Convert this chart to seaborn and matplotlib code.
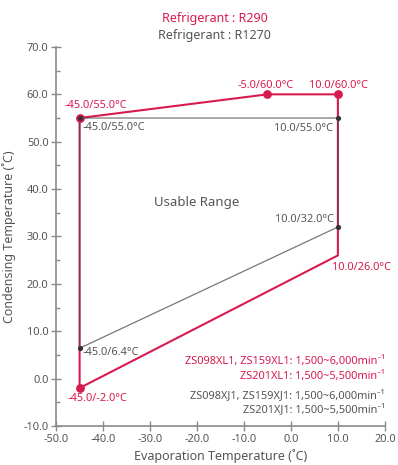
import matplotlib
matplotlib.use("Agg")
import matplotlib.pyplot as plt
import seaborn as sns
import pandas as pd
from matplotlib.ticker import MultipleLocator

# ---- data ----
r290_evap = [-45, -5, 10, 10, -45, -45]
r290_cond = [55, 60, 60, 26, -2, 55]
r290_mark_evap = [-45, -5, 10, -45]
r290_mark_cond = [55, 60, 60, -2]

r1270_evap = [-45, 10, 10, -45, -45]
r1270_cond = [55, 55, 32, 6.4, 55]
r1270_mark_evap = [-45, 10, 10, -45]
r1270_mark_cond = [55, 55, 32, 6.4]

x_ticks = [-50, -40, -30, -20, -10, 0, 10, 20]
y_ticks = [-10, 0, 10, 20, 30, 40, 50, 60, 70]

RED = "#d81b4f"
DARK = "#4a4a4a"
AX = "#8a8a8a"
TXT = "#555555"

sns.set_theme(style="white")
plt.rcParams["font.family"] = ["Noto Sans", "DejaVu Sans"]

fig = plt.figure(figsize=(3.98, 4.65), dpi=100)
ax = fig.add_axes([0.141, 0.084, 0.826, 0.815])

df290 = pd.DataFrame({"evap": r290_evap, "cond": r290_cond})
df1270 = pd.DataFrame({"evap": r1270_evap, "cond": r1270_cond})

sns.lineplot(data=df290, x="evap", y="cond", sort=False, estimator=None,
             color=RED, linewidth=1.5, ax=ax, zorder=2)
sns.lineplot(data=df1270, x="evap", y="cond", sort=False, estimator=None,
             color=DARK, linewidth=0.9, alpha=0.75, ax=ax, zorder=3)
sns.scatterplot(x=r290_mark_evap, y=r290_mark_cond, color=RED, s=40,
                edgecolor=RED, linewidth=0, ax=ax, zorder=4)
sns.scatterplot(x=r1270_mark_evap, y=r1270_mark_cond, color="#333333", s=14,
                edgecolor="#333333", linewidth=0, ax=ax, zorder=5)

fs = 7.9
# point labels
ax.text(-48.3, 57.6, "-45.0/55.0°C", color=RED, fontsize=fs, ha="left", va="center")
ax.text(-44.3, 52.9, "-45.0/55.0°C", color=TXT, fontsize=fs, ha="left", va="center")
ax.text(-5.3, 61.8, "-5.0/60.0°C", color=RED, fontsize=fs, ha="center", va="center")
ax.text(10.2, 61.8, "10.0/60.0°C", color=RED, fontsize=fs, ha="center", va="center")
ax.text(9.0, 52.7, "10.0/55.0°C", color=TXT, fontsize=fs, ha="right", va="center")
ax.text(9.1, 33.6, "10.0/32.0°C", color=TXT, fontsize=fs, ha="right", va="center")
ax.text(8.7, 23.5, "10.0/26.0°C", color=RED, fontsize=fs, ha="left", va="center")
ax.text(-44.3, 5.6, "-45.0/6.4°C", color=TXT, fontsize=fs, ha="left", va="center")
ax.text(-47.6, -4.3, "-45.0/-2.0°C", color=RED, fontsize=fs, ha="left", va="center")

ax.text(-20, 37.2, "Usable Range", color=TXT, fontsize=9.5, ha="center", va="center")

# notes
ax.text(20, 3.5, "ZS098XL1, ZS159XL1: 1,500~6,000min⁻¹", color=RED, fontsize=fs, ha="right", va="center")
ax.text(20, 0.5, "ZS201XL1: 1,500~5,500min⁻¹", color=RED, fontsize=fs, ha="right", va="center")
ax.text(20, -3.7, "ZS098XJ1, ZS159XJ1: 1,500~6,000min⁻¹", color=TXT, fontsize=fs, ha="right", va="center")
ax.text(20, -6.6, "ZS201XJ1: 1,500~5,500min⁻¹", color=TXT, fontsize=fs, ha="right", va="center")

# title lines
fig.text(0.54, 0.961, "Refrigerant : R290", color=RED, fontsize=9, ha="center", va="center")
fig.text(0.54, 0.923, "Refrigerant : R1270", color=TXT, fontsize=9, ha="center", va="center")

ax.set_xlim(-50, 20)
ax.set_ylim(-10, 70)
ax.set_xticks(x_ticks)
ax.set_yticks(y_ticks)
ax.set_xticklabels([f"{v:.1f}" for v in x_ticks])
ax.set_yticklabels([f"{v:.1f}" for v in y_ticks])
ax.yaxis.set_minor_locator(MultipleLocator(5))
ax.tick_params(axis="both", which="major", direction="inout", length=7, width=1,
               color=AX, labelcolor=TXT, labelsize=fs, pad=2, bottom=True, left=True)
ax.tick_params(axis="y", which="minor", direction="in", length=3, width=1, color=AX, left=True)

for side in ["top", "right"]:
    ax.spines[side].set_visible(False)
for side in ["left", "bottom"]:
    ax.spines[side].set_color(AX)
    ax.spines[side].set_linewidth(1.2)

ax.set_xlabel("Evaporation Temperature (˚C)", color=TXT, fontsize=9, labelpad=3)
ax.set_ylabel("Condensing Temperature (˚C)", color=TXT, fontsize=9, labelpad=5)

fig.savefig("out.png", dpi=100)
